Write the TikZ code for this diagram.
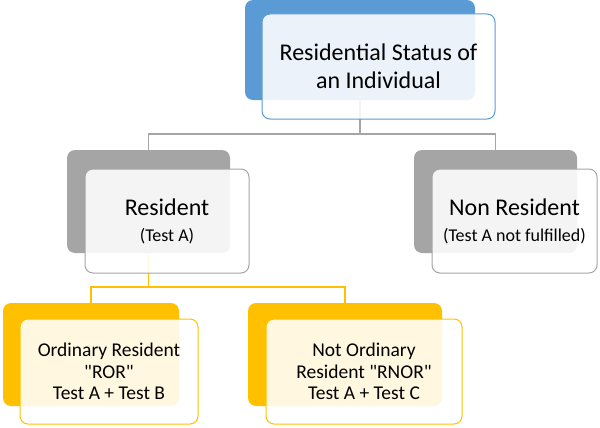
\documentclass[tikz,border=0pt]{standalone}
\usepackage{fontspec}
\setmainfont{Carlito}
\newfontfamily\qf{Carlito}
\definecolor{cblue}{HTML}{5B9BD5}
\definecolor{cgrey}{HTML}{A5A5A5}
\definecolor{cyel}{HTML}{FFC000}
\newcommand{\sq}{{\qf"}}
\begin{document}
\begin{tikzpicture}[x=1pt,y=-1pt,
  backbox/.style={rectangle,rounded corners=8pt,inner sep=0pt,fill=#1},
  frontbox/.style={rectangle,rounded corners=8pt,inner sep=0pt,draw=#1,line width=1pt,fill=white,fill opacity=0.88,text opacity=1,align=center,text=black},
  greyline/.style={draw=cgrey,line width=1.2pt},
  yelline/.style={draw=cyel,line width=1.5pt}]
\useasboundingbox (0,0) rectangle (600,428);
% back boxes
\node[backbox=cblue,minimum width=230pt,minimum height=100pt] (b0) at (360,50) {};
\node[backbox=cgrey,minimum width=163pt,minimum height=103pt] (b1) at (148.5,201.5) {};
\node[backbox=cgrey,minimum width=163pt,minimum height=103pt] (b2) at (495.5,201.5) {};
\node[backbox=cyel,minimum width=176pt,minimum height=103pt] (b3) at (91,354.5) {};
\node[backbox=cyel,minimum width=194pt,minimum height=103pt] (b4) at (345,354.5) {};
% junctions
\coordinate (j0) at (360,134);
\coordinate (j1) at (148.5,287);
% connectors
\draw[greyline] (b0.south) -- (j0);
\draw[greyline] (b1.north) |- (j0) -| (b2.north);
\draw[yelline] (b1.south) -- (j1);
\draw[yelline] (b3.north) |- (j1) -| (b4.north);
% front boxes
\node[frontbox=cblue,minimum width=233pt,minimum height=105pt,font=\fontsize{24}{28}\selectfont] (f0) at (378.5,66.5) {Residential Status of\\an Individual};
\node[frontbox=cgrey,minimum width=164pt,minimum height=104pt,font=\fontsize{24}{26}\selectfont] (f1) at (167,221) {Resident\\{\fontsize{18}{22}\selectfont (Test A)}};
\node[frontbox=cgrey,minimum width=165pt,minimum height=104pt,font=\fontsize{24}{26}\selectfont] (f2) at (514.5,221) {Non Resident\\{\fontsize{18}{22}\selectfont (Test A not fulfilled)}};
\node[frontbox=cyel,minimum width=178pt,minimum height=105pt,font=\fontsize{19.5}{21.5}\selectfont] (f3) at (109,371.5) {Ordinary Resident\\\sq ROR\sq\\Test A + Test B};
\node[frontbox=cyel,minimum width=196pt,minimum height=105pt,font=\fontsize{19.5}{21.5}\selectfont] (f4) at (364,371.5) {Not Ordinary\\Resident \sq RNOR\sq\\Test A + Test C};
\end{tikzpicture}
\end{document}
